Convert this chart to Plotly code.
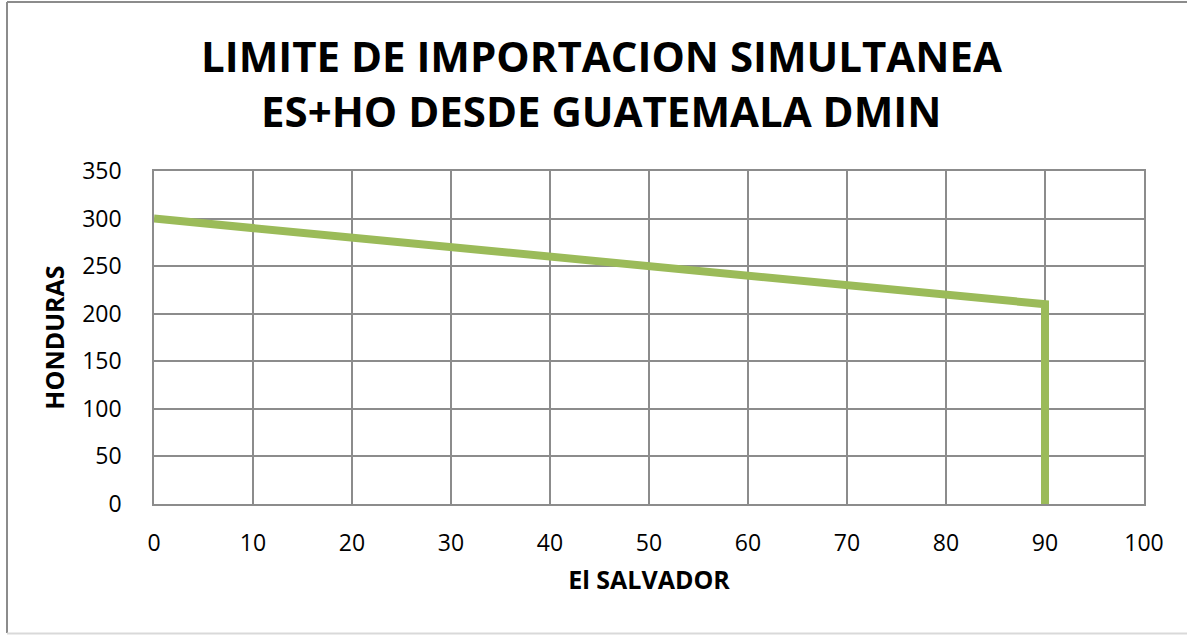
import plotly.graph_objects as go

el_salvador = [0, 90, 90]
honduras = [300, 210, 0]
x_ticks = list(range(0, 101, 10))
y_ticks = list(range(0, 351, 50))
title_lines = ["LIMITE DE IMPORTACION SIMULTANEA", "ES+HO DESDE GUATEMALA DMIN"]

W, H = 1187, 635
L, R, T, B = 154, 1144, 171, 504  # plot area in pixels
pw, ph = R - L, B - T


def px(x):
    return (x - L) / pw


def py(y):
    return (B - y) / ph


fig = go.Figure()
fig.add_trace(go.Scatter(x=el_salvador, y=honduras, mode="lines",
                         line=dict(color="#9BBB59", width=8), showlegend=False))

grid = "#8C8C8C"
annotations = []
for text, yc in zip(title_lines, [55, 110]):
    annotations.append(dict(text="<b>" + text + "</b>", x=px(601), y=py(yc), xref="paper", yref="paper",
                            xanchor="center", yanchor="middle", showarrow=False,
                            font=dict(size=42, family="Open Sans", color="black")))

fig.update_layout(
    width=W, height=H,
    margin=dict(l=L, r=W - R, t=T, b=H - B),
    paper_bgcolor="white", plot_bgcolor="white",
    font=dict(family="Open Sans", color="black"),
    annotations=annotations,
    xaxis=dict(range=[0, 100], tickvals=x_ticks, showgrid=True, gridcolor=grid, gridwidth=1.5,
               showline=True, linecolor=grid, linewidth=1.5, mirror=True, zeroline=False,
               tickfont=dict(size=23), ticks="", ticklabelstandoff=18,
               title=dict(text="<b>El SALVADOR</b>", font=dict(size=25), standoff=14)),
    yaxis=dict(range=[0, 350], tickvals=y_ticks, showgrid=True, gridcolor=grid, gridwidth=1.5,
               showline=True, linecolor=grid, linewidth=1.5, mirror=True, zeroline=False,
               tickfont=dict(size=23), ticks="", ticklabelstandoff=26,
               title=dict(text="<b>HONDURAS</b>", font=dict(size=25), standoff=10)),
    shapes=[
        dict(type="line", xref="paper", yref="paper", x0=px(7), x1=px(7), y0=py(2), y1=py(633),
             line=dict(color="#8C8C8C", width=2)),
        dict(type="line", xref="paper", yref="paper", x0=px(7), x1=px(1200), y0=py(2), y1=py(2),
             line=dict(color="#8C8C8C", width=2)),
        dict(type="line", xref="paper", yref="paper", x0=px(7), x1=px(1200), y0=py(633.5), y1=py(633.5),
             line=dict(color="#D9D9D9", width=2)),
    ],
)

fig.write_html("out.html", config={"displayModeBar": False},
               post_script="document.body.style.margin='0';document.body.style.overflow='hidden';")
